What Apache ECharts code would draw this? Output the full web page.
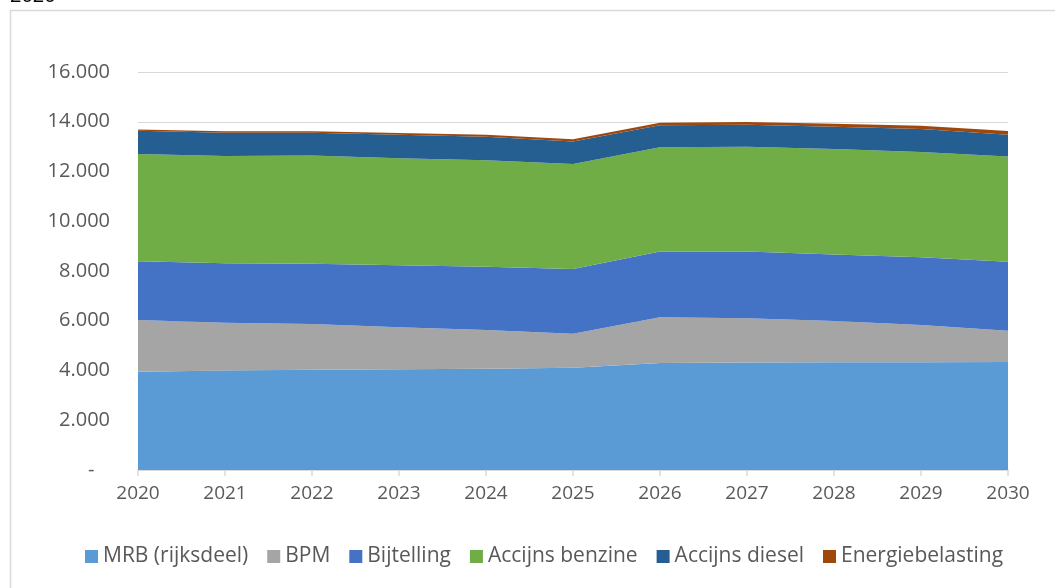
<!DOCTYPE html>
<html>
<head>
<meta charset="utf-8">
<script src="https://cdn.jsdelivr.net/npm/echarts@6/dist/echarts.min.js"></script>
<style>
  html, body { margin: 0; padding: 0; background: #fff; }
  #chart { width: 1055px; height: 588px; }
</style>
</head>
<body>
<div id="chart"></div>
<script>
// jaren
let years = ['2020','2021','2022','2023','2024','2025','2026','2027','2028','2029','2030'];
// opbrengsten per belasting (gestapeld)
let mrb = [3950, 4000, 4030, 4050, 4070, 4110, 4300, 4320, 4330, 4330, 4340];
let bpm = [2080, 1920, 1840, 1690, 1560, 1370, 1840, 1780, 1660, 1500, 1260];
let bijtelling = [2360, 2390, 2420, 2490, 2540, 2600, 2640, 2680, 2670, 2720, 2770];
let accijnsBenzine = [4310, 4310, 4350, 4300, 4280, 4220, 4190, 4220, 4240, 4230, 4230];
let accijnsDiesel = [940, 940, 920, 950, 950, 910, 890, 880, 900, 930, 880];
let energiebelasting = [50, 60, 60, 70, 80, 90, 100, 110, 120, 130, 150];
let yTicks = [0, 2000, 4000, 6000, 8000, 10000, 12000, 14000, 16000];

let font = '"Open Sans", "Noto Sans", sans-serif';

let chart = echarts.init(document.getElementById('chart'));

function area(name, data, color) {
  return {
    name: name,
    type: 'line',
    stack: 'totaal',
    data: data,
    symbol: 'none',
    lineStyle: { width: 0 },
    areaStyle: { color: color, opacity: 1 },
    itemStyle: { color: color },
    emphasis: { disabled: true }
  };
}

let option = {
  animation: false,
  textStyle: { fontFamily: font },
  grid: {
    left: 138,
    right: 47,
    top: 72,
    bottom: 118,
    show: false
  },
  legend: {
    bottom: 16,
    left: 80,
    icon: 'rect',
    itemWidth: 13,
    itemHeight: 13,
    itemGap: 19,
    textStyle: { color: '#595959', fontSize: 21, fontFamily: font },
    data: ['MRB (rijksdeel)', 'BPM', 'Bijtelling', 'Accijns benzine', 'Accijns diesel', 'Energiebelasting']
  },
  graphic: [
    {
      type: 'rect',
      shape: { x: 10.5, y: 10.5, width: 1100, height: 700 },
      style: { fill: 'none', stroke: '#D9D9D9', lineWidth: 1.5 },
      silent: true
    },
    {
      type: 'text',
      left: 10,
      top: -14,
      style: { text: '2020', fontSize: 20, fill: '#000', fontFamily: font },
      silent: true
    }
  ],
  xAxis: {
    type: 'category',
    boundaryGap: false,
    data: years,
    axisLine: { lineStyle: { color: '#D9D9D9', width: 1.5 } },
    axisTick: { show: true, length: 6, lineStyle: { color: '#D9D9D9', width: 1.5 } },
    axisLabel: { color: '#595959', fontSize: 19, margin: 14 },
    splitLine: { show: false }
  },
  yAxis: {
    type: 'value',
    min: 0,
    max: 16000,
    interval: 2000,
    axisLine: { show: false },
    axisTick: { show: false },
    axisLabel: {
      color: '#595959',
      fontSize: 20,
      margin: 28,
      formatter: function (v) {
        if (yTicks.indexOf(v) < 0) return '';
        if (v === 0) return '-   ';
        return v.toLocaleString('nl-NL').replace(',', '.');
      }
    },
    splitLine: { show: true, lineStyle: { color: '#D9D9D9', width: 1 } }
  },
  series: [
    area('MRB (rijksdeel)', mrb, '#5B9BD5'),
    area('BPM', bpm, '#A5A5A5'),
    area('Bijtelling', bijtelling, '#4472C4'),
    area('Accijns benzine', accijnsBenzine, '#70AD47'),
    area('Accijns diesel', accijnsDiesel, '#255E91'),
    area('Energiebelasting', energiebelasting, '#9E480E')
  ]
};

chart.setOption(option);
</script>
</body>
</html>
